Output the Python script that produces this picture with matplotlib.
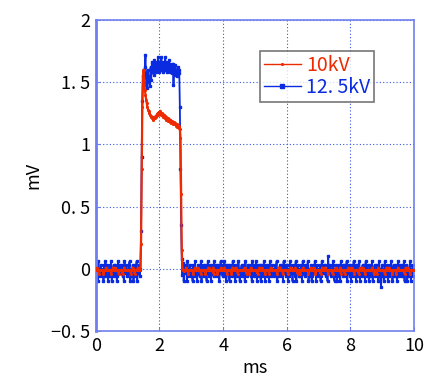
import matplotlib
matplotlib.use("Agg")
import matplotlib.pyplot as plt
import numpy as np

# baseline noise, one letter per 0.02 ms sample
blue_levels = {'g': 0.1, 'a': 0.06, 'b': 0.03, 'c': 0.0, 'd': -0.03,
               'e': -0.06, 'f': -0.1, 'h': -0.15}
red_levels = {'u': 0.01, 'n': -0.01, 'l': -0.04}

blue_pre_codes = ("cdbfaecdbe" "dcfbeacdbf" "ecbdafcdbe" "bcdfeacdbc"
                  "dbecfadcbe" "cdbafecdbf" "ebcdafcdbe" "c")
red_pre_codes = ("nnunnlnnnn" "nnlnnnunnn" "nnnnlnnunn" "unnnnnlnnn"
                 "nnlnnunnnn" "nnnnnlnnun" "nlnnnnunnn" "n")

blue_post_codes = ("bdcfaecdbe" "cdfbceadcf" "dbcedafcbd" "ecbdfcadeb"
                   "cfdbceadcb" "debcfdacbe" "cdaebfcdbe" "fbcdeacdbf"
                   "cebdacfdcb" "edcbfadceb" "cdbecfadbe" "dcafbedcbf"
                   "becdacfbde" "cbfdaecbdc" "edbcafdceb" "cdebfacdbe"
                   "bcfdeacbdf" "dcbeafcdbe" "cedbfacdeb" "dbcafedcbf"
                   "ecbdacfbde" "cdbfeacdbc" "bedcfgdcbe" "dcbaefcdbf"
                   "cebdfacdbe" "bcdeafcdbe" "dfcbeacdbf" "cbedafcdeb"
                   "dcbfaecbdf" "ebcdafcdbe" "cdbefacdhe" "bdcfaecbdf"
                   "cebdacfdbe" "dcbfeacdbe" "cbdeafcdbf" "edcbafcdbe" "c")
red_post_codes = ("nnunnlnnnn" "nnnlnnunnn" "unnnnlnnnn" "nnlnnnnunn"
                  "nnnnulnnnn" "nlnnnnnunn" "nnunnnlnnn" "nnnlnunnnn"
                  "unnlnnnnnn" "nnnnunnlnn" "nlnnunnnnn" "nnnnlnnunn"
                  "nunnnnlnnn" "nnlnnunnnn" "nnnnnlnunn" "unnnlnnnnn"
                  "nnlnnnunnn" "nnnunnnlnn" "nlnnnnunnn" "nnnnlnnnun"
                  "nnunnlnnnn" "nnnlnnunnn" "unnnnlnnnn" "nnlnnnnunn"
                  "nnnnulnnnn" "nlnnnnnunn" "nnunnnlnnn" "nnnlnunnnn"
                  "unnlnnnnnn" "nnnnunnlnn" "nlnnunnnnn" "nnnnlnnunn"
                  "nunnnnlnnn" "nnlnnunnnn" "nnnnnlnunn" "unnnlnnnnn" "n")

# pulse, 1.42 .. 2.78 ms every 0.02 ms (mV)
blue_pulse = [0.3, 0.9, 1.35, 1.55, 1.6, 1.48, 1.62, 1.72, 1.5, 1.58,
              1.45, 1.6, 1.5, 1.55, 1.47, 1.62, 1.52, 1.66, 1.58, 1.64,
              1.56, 1.68, 1.6, 1.66, 1.58, 1.65, 1.6, 1.7, 1.58, 1.66,
              1.6, 1.64, 1.7, 1.6, 1.66, 1.58, 1.65, 1.6, 1.7, 1.62,
              1.66, 1.58, 1.64, 1.6, 1.68, 1.58, 1.65, 1.6, 1.63, 1.57,
              1.65, 1.48, 1.62, 1.56, 1.64, 1.58, 1.6, 1.55, 1.62, 1.57,
              1.6, 1.3, 0.8, 0.35, 0.08, -0.05, 0.05, -0.1, 0.0]
red_pulse = [0.2, 0.8, 1.3, 1.55, 1.6, 1.52, 1.44, 1.4, 1.36, 1.33,
             1.3, 1.28, 1.27, 1.25, 1.24, 1.23, 1.22, 1.21, 1.22, 1.2,
             1.21, 1.22, 1.21, 1.23, 1.22, 1.24, 1.25, 1.24, 1.26, 1.25,
             1.27, 1.25, 1.24, 1.25, 1.23, 1.22, 1.24, 1.21, 1.23, 1.2,
             1.22, 1.2, 1.21, 1.19, 1.2, 1.18, 1.2, 1.17, 1.19, 1.18,
             1.17, 1.16, 1.18, 1.16, 1.17, 1.15, 1.16, 1.14, 1.15, 1.13,
             1.15, 1.12, 1.05, 0.6, 0.15, 0.0, -0.01, -0.02, -0.01]

x_ticks = [0, 2, 4, 6, 8, 10]
y_ticks = [-0.5, 0, 0.5, 1, 1.5, 2]
y_labels = ['\u22120. 5', '0', '0. 5', '1', '1. 5', '2']
series_names = ['10kV', '12. 5kV']

dt = 0.02


def build(pre_codes, pulse, post_codes, levels):
    pre = [levels[c] for c in pre_codes]
    post = [levels[c] for c in post_codes]
    t = np.concatenate([dt * np.arange(len(pre)),
                        1.42 + dt * np.arange(len(pulse)),
                        2.80 + dt * np.arange(len(post))])
    return t, np.concatenate([pre, pulse, post])


t_b, blue = build(blue_pre_codes, blue_pulse, blue_post_codes, blue_levels)
t_r, red = build(red_pre_codes, red_pulse, red_post_codes, red_levels)

plt.rcParams['font.family'] = ['Noto Sans CJK JP', 'DejaVu Sans']
edge = '#6f80ee'
blue_c = '#0a2be0'
red_c = '#ee2a00'

fig = plt.figure(figsize=(4.26, 3.84), dpi=100)
ax = fig.add_axes([0.225, 0.138, 0.747, 0.81])

ax.plot(t_b, blue, color=blue_c, lw=1.3, marker='s', ms=2, label=series_names[1], zorder=2)
ax.plot(t_r, red, color=red_c, lw=1.6, marker='.', ms=2.5, label=series_names[0], zorder=3)

ax.set_xlim(0, 10)
ax.set_ylim(-0.5, 2)
ax.set_xticks(x_ticks)
ax.set_yticks(y_ticks)
ax.set_yticklabels(y_labels)
ax.tick_params(direction='in', color=edge, labelsize=13, length=3, pad=4)
ax.grid(True, color='#3a55e0', linestyle=(0, (1, 2)), lw=0.8)
for s in ax.spines.values():
    s.set_color(edge)
    s.set_linewidth(1.2)
ax.spines['left'].set_linewidth(2)
ax.set_xlabel('ms', fontsize=13, labelpad=3)
ax.set_ylabel('mV', fontsize=13, labelpad=6)

h, l = ax.get_legend_handles_labels()
leg = ax.legend(h[::-1], l[::-1], loc='upper left', bbox_to_anchor=(0.515, 0.9),
                fontsize=14, frameon=True, fancybox=False, handlelength=1.9,
                handletextpad=0.3, borderpad=0.2, labelspacing=0.05,
                borderaxespad=0)
leg.get_frame().set_edgecolor('#555555')
leg.get_frame().set_linewidth(1.2)
for txt, c in zip(leg.get_texts(), [red_c, blue_c]):
    txt.set_color(c)
for line in leg.get_lines():
    line.set_linewidth(1.0)
    line.set_markersize(2.5)

fig.savefig('out.png', dpi=100)
